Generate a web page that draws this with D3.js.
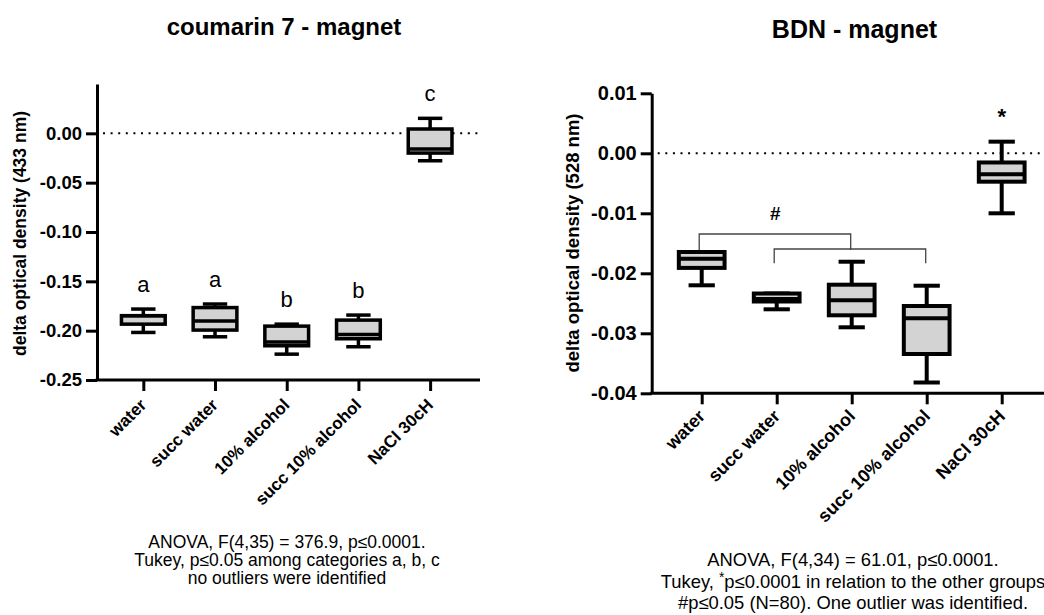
<!DOCTYPE html>
<html>
<head>
<meta charset="utf-8">
<script src="https://cdn.jsdelivr.net/npm/d3@7"></script>
<style>
  body { margin: 0; background: #fff; }
  svg { display: block; }
  text { font-family: "Liberation Sans", Arial, Helvetica, sans-serif; fill: #000; }
</style>
</head>
<body>
<svg id="chart" width="1044" height="615"></svg>
<script>
// ---- data ----
const categories = ["water", "succ water", "10% alcohol", "succ 10% alcohol", "NaCl 30cH"];

// coumarin 7 (433 nm): five-number summaries per group
const coumarinMin    = [-0.2018, -0.2062, -0.2238, -0.2163, -0.0278];
const coumarinQ1     = [-0.1934, -0.1994, -0.2153, -0.2082, -0.0200];
const coumarinMedian = [-0.1848, -0.1903, -0.2116, -0.2038, -0.0159];
const coumarinQ3     = [-0.1848, -0.1766, -0.1954, -0.1893,  0.0044];
const coumarinMax    = [-0.1781, -0.1730, -0.1934, -0.1842,  0.0152];
const coumarinTicks  = [0.00, -0.05, -0.10, -0.15, -0.20, -0.25];
const coumarinLetters = ["a", "a", "b", "b", "c"];
const coumarinNotes = [
  "ANOVA, F(4,35) = 376.9, p\u22640.0001.",
  "Tukey, p\u22640.05 among categories a, b, c",
  "no outliers were identified"
];

// BDN (528 nm): five-number summaries per group
const bdnMin    = [-0.0220, -0.0260, -0.0290, -0.0382, -0.0100];
const bdnQ1     = [-0.0191, -0.0247, -0.0270, -0.03345, -0.00473];
const bdnMedian = [-0.01757, -0.02428, -0.0245, -0.0275, -0.0035];
const bdnQ3     = [-0.01645, -0.02337, -0.0219, -0.02545, -0.00153];
const bdnMax    = [-0.01645, -0.02337, -0.01807, -0.02207, 0.00194];
const bdnTicks  = [0.01, 0.00, -0.01, -0.02, -0.03, -0.04];
const bdnMarks  = ["", "", "", "", "*"];
const bdnBrackets = [["water", "10% alcohol"], ["succ water", "succ 10% alcohol"]];
const bdnBracketLevels = [-0.01345, -0.01595];
const bdnBracketLabel = "#";
const bdnNotes = [
  "ANOVA, F(4,34) = 61.01, p\u22640.0001.",
  ["Tukey, ", "*", "p\u22640.0001 in relation to the other groups"],
  "#p\u22640.05 (N=80). One outlier was identified."
];

const svg = d3.select("#chart");

function summaries(mins, q1s, meds, q3s, maxs) {
  return categories.map((c, i) => ({
    cat: c, min: mins[i], q1: q1s[i], med: meds[i], q3: q3s[i], max: maxs[i]
  }));
}

function drawPanel(cfg) {
  const g = svg.append("g");
  const y = d3.scaleLinear().domain(cfg.yDomain).range([cfg.bottom, cfg.top]);
  const x = d3.scalePoint().domain(categories)
    .range([cfg.left, cfg.left + cfg.step * (categories.length - 1 + 2 * cfg.pad)])
    .padding(cfg.pad);

  // title
  g.append("text")
    .attr("x", cfg.titleX).attr("y", cfg.titleY)
    .attr("text-anchor", "middle")
    .style("font-size", cfg.titleSize + "px").style("font-weight", "bold")
    .text(cfg.title);

  // y axis
  const yAxis = g.append("g")
    .attr("transform", `translate(${cfg.left},0)`)
    .call(d3.axisLeft(y).tickValues(cfg.ticks).tickSize(11).tickSizeOuter(0).tickPadding(4)
      .tickFormat(d => d.toFixed(2)));
  yAxis.select(".domain").attr("stroke", "#000").attr("stroke-width", 3);
  yAxis.selectAll(".tick line").attr("stroke", "#000").attr("stroke-width", 3);
  yAxis.selectAll(".tick text")
    .style("font-size", cfg.tickSize + "px").style("font-weight", "bold")
    .attr("fill", "#000").style("font-family", "'Liberation Sans', Arial, sans-serif");

  // y axis title
  g.append("text")
    .attr("transform", `translate(${cfg.yLabelX},${cfg.yLabelY}) rotate(-90)`)
    .attr("text-anchor", "middle")
    .style("font-size", cfg.yLabelSize + "px").style("font-weight", "bold")
    .text(cfg.yLabel);

  // x axis baseline and ticks
  g.append("line")
    .attr("x1", cfg.left - 1.5).attr("x2", cfg.right)
    .attr("y1", cfg.bottom).attr("y2", cfg.bottom)
    .attr("stroke", "#000").attr("stroke-width", 3);
  const xAxis = g.append("g")
    .attr("transform", `translate(0,${cfg.bottom})`)
    .call(d3.axisBottom(x).tickSize(11).tickFormat(""));
  xAxis.select(".domain").remove();
  xAxis.selectAll(".tick line").attr("stroke", "#000").attr("stroke-width", 3);

  // rotated category labels
  g.selectAll(".xlabel").data(categories).enter().append("text")
    .attr("class", "xlabel")
    .attr("transform", d => `translate(${x(d) + cfg.xLabelDx},${cfg.bottom + cfg.xLabelDy}) rotate(-45)`)
    .attr("text-anchor", "end")
    .style("font-size", cfg.xLabelSize + "px").style("font-weight", "bold")
    .text(d => d);

  // dotted reference line at zero
  g.append("line")
    .attr("x1", cfg.left + 6).attr("x2", cfg.right)
    .attr("y1", y(0)).attr("y2", y(0))
    .attr("stroke", "#000").attr("stroke-width", 2)
    .attr("stroke-dasharray", "2,5.6");

  // box plots
  const bw = cfg.step * cfg.boxFrac;
  const cw = cfg.step * cfg.capFrac;
  const boxes = g.selectAll(".box").data(cfg.data).enter().append("g").attr("class", "box");
  boxes.append("line")
    .attr("x1", d => x(d.cat)).attr("x2", d => x(d.cat))
    .attr("y1", d => y(d.max)).attr("y2", d => y(d.min))
    .attr("stroke", "#000").attr("stroke-width", cfg.lineW);
  boxes.append("line")
    .attr("x1", d => x(d.cat) - cw / 2).attr("x2", d => x(d.cat) + cw / 2)
    .attr("y1", d => y(d.max)).attr("y2", d => y(d.max))
    .attr("stroke", "#000").attr("stroke-width", cfg.capW);
  boxes.append("line")
    .attr("x1", d => x(d.cat) - cw / 2).attr("x2", d => x(d.cat) + cw / 2)
    .attr("y1", d => y(d.min)).attr("y2", d => y(d.min))
    .attr("stroke", "#000").attr("stroke-width", cfg.capW);
  boxes.append("rect")
    .attr("x", d => x(d.cat) - bw / 2).attr("width", bw)
    .attr("y", d => y(d.q3)).attr("height", d => y(d.q1) - y(d.q3))
    .attr("fill", "#d3d3d3").attr("stroke", "#000").attr("stroke-width", cfg.boxW);
  boxes.append("line")
    .attr("x1", d => x(d.cat) - bw / 2 - 1).attr("x2", d => x(d.cat) + bw / 2 + 1)
    .attr("y1", d => y(d.med)).attr("y2", d => y(d.med))
    .attr("stroke", "#000").attr("stroke-width", cfg.medW);

  // significance marks above each whisker
  g.selectAll(".mark").data(cfg.data).enter().append("text")
    .attr("class", "mark")
    .attr("x", d => x(d.cat)).attr("y", d => y(d.max) - cfg.markGap)
    .attr("text-anchor", "middle")
    .style("font-size", cfg.markSize + "px").style("font-weight", cfg.markWeight)
    .text((d, i) => cfg.marks[i]);

  // notes under the plot
  const notes = g.append("text")
    .attr("text-anchor", "middle")
    .style("font-size", cfg.noteSize + "px");
  cfg.notes.forEach((line, i) => {
    const t = notes.append("tspan").attr("x", cfg.noteX).attr("y", cfg.noteY + i * cfg.noteGap);
    if (Array.isArray(line)) {
      t.append("tspan").text(line[0]);
      t.append("tspan").attr("dy", -6).style("font-size", (cfg.noteSize * 0.75) + "px").text(line[1]);
      t.append("tspan").attr("dy", 6).text(line[2]);
    } else {
      t.text(line);
    }
  });

  return { g, x, y };
}

// left panel: coumarin 7
drawPanel({
  title: "coumarin 7 - magnet", titleX: 284, titleY: 35, titleSize: 24,
  yDomain: [-0.25, 0.05], top: 84, bottom: 380, left: 97, right: 480,
  step: 71.7, pad: 0.646, ticks: coumarinTicks, tickSize: 18.5,
  yLabel: "delta optical density (433 nm)", yLabelX: 26, yLabelY: 233.5, yLabelSize: 17.5,
  xLabelDx: 4, xLabelDy: 26, xLabelSize: 17,
  boxFrac: 0.61, capFrac: 0.34, lineW: 3.5, capW: 3.5, boxW: 3.5, medW: 3.5,
  data: summaries(coumarinMin, coumarinQ1, coumarinMedian, coumarinQ3, coumarinMax),
  marks: coumarinLetters, markGap: 17, markSize: 22, markWeight: "normal",
  notes: coumarinNotes, noteX: 287, noteY: 547.5, noteGap: 18.2, noteSize: 17.5
});

// right panel: BDN
const right = drawPanel({
  title: "BDN - magnet", titleX: 854.5, titleY: 38, titleSize: 25,
  yDomain: [-0.04, 0.01], top: 93.3, bottom: 393.3, left: 651.7, right: 1060,
  step: 75, pad: 0.6667, ticks: bdnTicks, tickSize: 20,
  yLabel: "delta optical density (528 nm)", yLabelX: 578.5, yLabelY: 243, yLabelSize: 18.5,
  xLabelDx: 4.5, xLabelDy: 24, xLabelSize: 18,
  boxFrac: 0.61, capFrac: 0.35, lineW: 4, capW: 4, boxW: 4, medW: 4,
  data: summaries(bdnMin, bdnQ1, bdnMedian, bdnQ3, bdnMax),
  marks: bdnMarks, markGap: 18, markSize: 22, markWeight: "bold",
  notes: bdnNotes, noteX: 853, noteY: 566, noteGap: 21.7, noteSize: 18.4
});

// comparison brackets between groups
const legDrop = [16, 14.3];
bdnBrackets.forEach((pair, i) => {
  const x1 = right.x(pair[0]) - 2.5, x2 = right.x(pair[1]) - 1;
  const yy = right.y(bdnBracketLevels[i]);
  right.g.append("path")
    .attr("d", `M${x1},${yy + legDrop[i]}V${yy}H${x2}V${yy + legDrop[i]}`)
    .attr("fill", "none").attr("stroke", "#444").attr("stroke-width", 1.3);
});
{
  const pair = bdnBrackets[0];
  const cx = (right.x(pair[0]) + right.x(pair[1])) / 2 - 1.5;
  right.g.append("text")
    .attr("x", cx).attr("y", right.y(bdnBracketLevels[0]) - 14.5)
    .attr("text-anchor", "middle")
    .style("font-size", "19px").style("font-weight", "bold")
    .text(bdnBracketLabel);
}
</script>
</body>
</html>
